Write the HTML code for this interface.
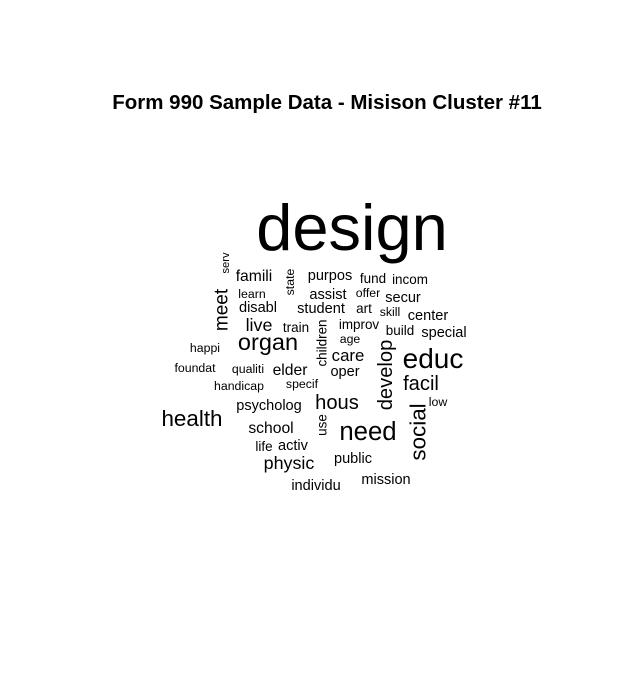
<!DOCTYPE html>
<html><head><meta charset="utf-8"><style>body{margin:0;background:#fff}svg text{font-family:"Liberation Sans",Arial,sans-serif;fill:#000}</style></head>
<body>
<svg width="640" height="690" xmlns="http://www.w3.org/2000/svg">
<rect width="640" height="690" fill="#fff"/>
<text x="327" y="109" text-anchor="middle" font-size="20.5" font-weight="bold">Form 990 Sample Data - Misison Cluster #11</text>
<g id="cloud"></g>
</svg>
<script>
const words=["design","famili","purpos","fund","incom","serv","state","learn","assist","offer","secur","meet","disabl","student","art","skill","center","live","train","children","improv","age","build","special","happi","organ","care","develop","educ","foundat","qualiti","elder","oper","handicap","specif","facil","hous","psycholog","low","health","social","use","need","school","life","activ","public","physic","mission","individu"];
const sizes=[65,14,13,12,12,10,11,11,13,11,13,17,13,13,12,11,13,16,12,12,12,11,12,13,11,21,15,18,25,11,11,14,13,11,11,18,18,13,11,20,20,12,23,14,12,13,13,16,13,13];
const xs=[352,254,330,373,410,226,290,252,328,368,403,222,258,321,364,390,428,259,296,322,359,350,400,444,205,268,348,386,433,195,248,290,345,239,302,421,337,269,438,192,418,322,368,271,264,293,353,289,386,316];
const ys=[250,281,280,283,284,263,282,298,299,297,302,310,312,313,313,316,320,331,332,343,329,343,335,337,352,350,361,375,368,372,373,375,376,390,388,390,409,410,406,426,432,425,440,433,451,450,463,469,484,490];
const rot=["serv","state","meet","children","develop","social","use"];
const g=document.getElementById('cloud');
words.forEach((w,i)=>{
 const t=document.createElementNS('http://www.w3.org/2000/svg','text');
 
 
 t.setAttribute('font-size',i===0?sizes[i]:sizes[i]*1.12);
 t.setAttribute('text-anchor','middle');
 if(rot.includes(w)){
  t.setAttribute('x',0);t.setAttribute('y',0);
  t.setAttribute('dominant-baseline','central');
  t.setAttribute('transform','translate('+xs[i]+','+ys[i]+') rotate(-90)');
 } else {t.setAttribute('x',xs[i]);t.setAttribute('y',ys[i]);}
 t.textContent=w;
 g.appendChild(t);
});
</script>
</body></html>
